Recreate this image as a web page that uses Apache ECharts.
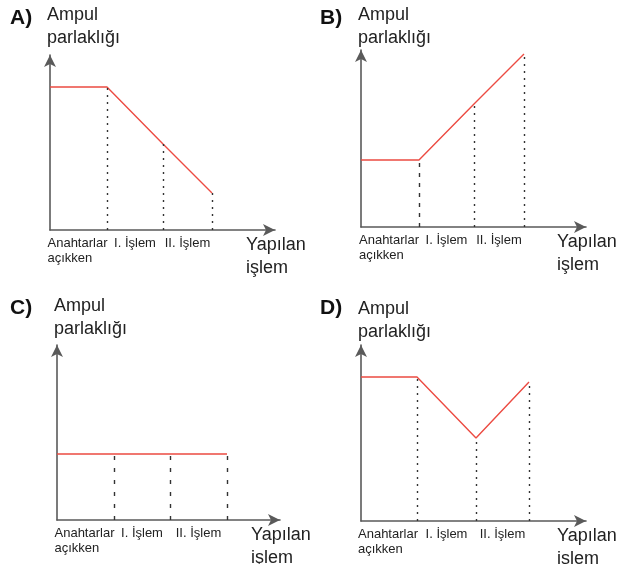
<!DOCTYPE html>
<html>
<head>
<meta charset="utf-8">
<script src="https://cdn.jsdelivr.net/npm/echarts@6/dist/echarts.min.js"></script>
<style>
  html, body { margin: 0; padding: 0; background: #fff; }
  #chart { width: 638px; height: 564px; }
</style>
</head>
<body>
<div id="chart"></div>
<script>
// stage names on the x axis and the axis names
const stageLabels = ['Anahtarlar\naçıkken', 'I. İşlem', 'II. İşlem']
const yName = 'Ampul\nparlaklığı'
const xName = 'Yapılan\nişlem'
const panelLetters = ['A)', 'B)', 'C)', 'D)']

// stage boundaries (x) and bulb brightness (y)
const xA = [0, 57, 113, 162]
const yA = [143, 143, 86, 37]
const xB = [0, 58, 113, 163]
const yB = [67, 67, 123, 173]
const xC = [0, 57, 113, 170]
const yC = [66, 66, 66, 66]
const xD = [0, 56, 115, 168]
const yD = [144, 144, 83, 139]

const FONT = 'Liberation Sans, Arial, sans-serif'
const RED = '#ec4b42'
const AXIS = '#5a5a5a'

// layout per panel (grid box, title spot, name gap, dash style of the drop lines)
const panels = [
  { x: xA, y: yA, left: 50, top: 55, w: 225, h: 175, tl: 10, tt: 8, ng: 5, dash: [[2, 5], [2, 5], [2, 5]] },
  { x: xB, y: yB, left: 361, top: 50, w: 225, h: 177, tl: 320, tt: 8, ng: 0, dash: [[4, 6], [2, 5], [2, 5]] },
  { x: xC, y: yC, left: 57, top: 345, w: 223, h: 175, tl: 10, tt: 298, ng: 4, dash: [[4, 8], [4, 8], [4, 8]] },
  { x: xD, y: yD, left: 361, top: 345, w: 225, h: 176, tl: 320, tt: 298, ng: 1, dash: [[2, 5], [2, 5], [2, 5]] }
]

const chart = echarts.init(document.getElementById('chart'), null, { renderer: 'canvas' })

const title = []
const grid = []
const xAxis = []
const yAxis = []
const series = []

panels.forEach((p, i) => {
  title.push({
    text: panelLetters[i],
    left: p.tl,
    top: p.tt,
    padding: 0,
    textStyle: { fontFamily: FONT, fontSize: 21, fontWeight: 'bold', color: '#111' }
  })
  grid.push({
    left: p.left,
    top: p.top,
    width: p.w,
    height: p.h,
    containLabel: false,
    outerBoundsMode: 'none'
  })

  const mids = []
  for (let k = 0; k < stageLabels.length; k++) mids.push((p.x[k] + p.x[k + 1]) / 2)

  xAxis.push({
    type: 'value',
    gridIndex: i,
    min: 0,
    max: p.w,
    splitLine: { show: false },
    axisTick: { show: false },
    axisLine: {
      show: true,
      symbol: ['none', 'arrow'],
      symbolSize: [9, 12],
      lineStyle: { color: AXIS, width: 1.6 }
    },
    axisLabel: {
      customValues: mids,
      margin: 6,
      formatter: (v) => {
        const s = stageLabels[mids.indexOf(v)] || ''
        const lines = s.split('\n')
        const st = lines.length > 1 ? 'w' : 'c'
        return lines.map(l => '{' + st + '|' + l + '}').join('\n')
      },
      rich: {
        w: { width: 62, align: 'left', fontFamily: FONT, fontSize: 13, color: '#222', lineHeight: 15 },
        c: { fontFamily: FONT, fontSize: 13, color: '#222', lineHeight: 15 }
      }
    },
    name: xName,
    nameLocation: 'end',
    nameGap: -29,
    nameMoveOverlap: false,
    nameTextStyle: {
      fontFamily: FONT,
      fontSize: 18,
      color: '#222',
      lineHeight: 23,
      align: 'left',
      verticalAlign: 'top',
      padding: [4, 0, 0, 0]
    }
  })

  yAxis.push({
    type: 'value',
    gridIndex: i,
    min: 0,
    max: p.h,
    splitLine: { show: false },
    axisTick: { show: false },
    axisLabel: { show: false },
    axisLine: {
      show: true,
      symbol: ['none', 'arrow'],
      symbolSize: [9, 12],
      lineStyle: { color: AXIS, width: 1.6 }
    },
    name: yName,
    nameLocation: 'end',
    nameGap: p.ng,
    nameMoveOverlap: false,
    nameTextStyle: {
      fontFamily: FONT,
      fontSize: 18,
      color: '#222',
      lineHeight: 23,
      align: 'left',
      verticalAlign: 'bottom',
      padding: [0, 0, 0, -3]
    }
  })

  const pts = p.x.map((xv, k) => [xv, p.y[k]])
  // dotted drop lines from each stage end down to the x axis
  const drops = []
  for (let k = 1; k < pts.length; k++) {
    drops.push([
      { coord: [pts[k][0], 0], lineStyle: { type: p.dash[k - 1] } },
      { coord: [pts[k][0], pts[k][1]] }
    ])
  }

  series.push({
    type: 'line',
    xAxisIndex: i,
    yAxisIndex: i,
    data: pts,
    showSymbol: false,
    silent: true,
    lineStyle: { color: RED, width: 1.4 },
    z: 3,
    markLine: {
      silent: true,
      symbol: ['none', 'none'],
      label: { show: false },
      lineStyle: { color: '#333', width: 1.4 },
      emphasis: { disabled: true },
      data: drops
    }
  })
})

chart.setOption({
  animation: false,
  backgroundColor: '#fff',
  title,
  grid,
  xAxis,
  yAxis,
  series
})
</script>
</body>
</html>
